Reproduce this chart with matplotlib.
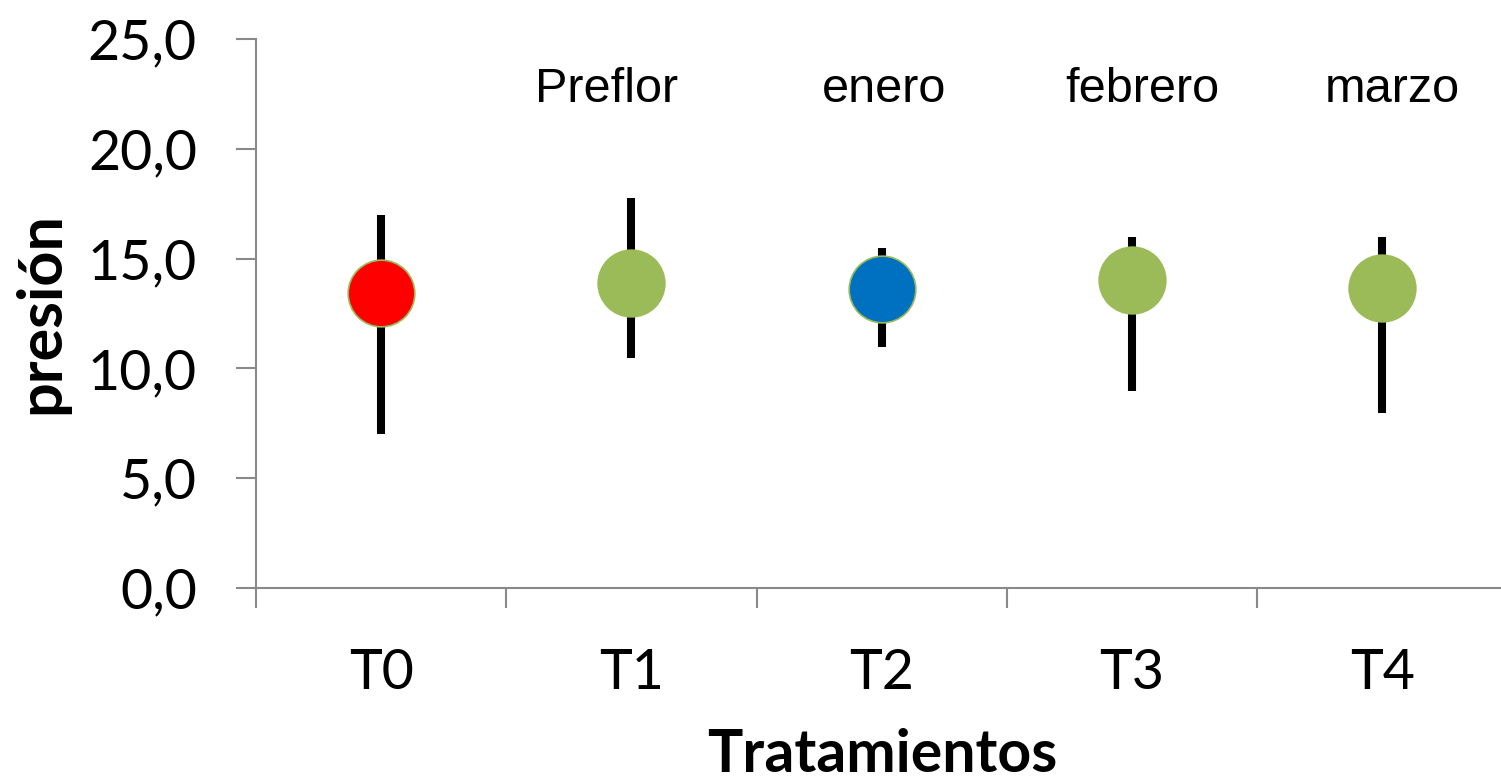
import matplotlib
matplotlib.use("Agg")
import matplotlib.pyplot as plt
from matplotlib.ticker import FuncFormatter

categories = ["T0", "T1", "T2", "T3", "T4"]
means = [13.42, 13.87, 13.60, 14.03, 13.68]
upper = [17.0, 17.74, 15.47, 15.97, 16.0]
lower = [7.0, 10.49, 10.99, 8.98, 7.98]
colors = ["#FF0000", "#9BBB59", "#0070C0", "#9BBB59", "#9BBB59"]
notes = ["", "Preflor", "enero", "febrero", "marzo"]
note_offsets = [0.0, -0.1, 0.01, 0.04, 0.04]

W, H = 1501, 778
fig = plt.figure(figsize=(W / 100, H / 100), dpi=100)
left, right, top, bottom = 256, 1507.5, 39, 588
ax = fig.add_axes([left / W, (H - bottom) / H, (right - left) / W, (bottom - top) / H])

x = list(range(len(categories)))
ax.vlines(x, lower, upper, colors="black", linewidth=5.8, zorder=2)
for xi, m, c in zip(x, means, colors):
    ax.plot([xi], [m], marker="o", markersize=48, markerfacecolor=c,
            markeredgecolor="#9BBB59", markeredgewidth=1.2, linestyle="none", zorder=3)

for xi, t, off in zip(x, notes, note_offsets):
    if t:
        ax.text(xi + off, 22.13, t, ha="center", va="baseline",
                fontsize=35, family="Liberation Sans", color="black")

ax.set_xlim(-0.5, 4.5)
ax.set_ylim(0, 25)
ax.set_yticks([0, 5, 10, 15, 20, 25])
ax.yaxis.set_major_formatter(FuncFormatter(lambda v, p: f"{v:.1f}".replace(".", ",")))
ax.set_xticks(x)
ax.set_xticklabels(categories)
ax.set_xticks([i - 0.5 for i in range(len(categories) + 1)], minor=True)
ax.tick_params(axis="x", which="major", length=0, pad=43, labelsize=40)
ax.tick_params(axis="x", which="minor", length=14.5, width=1.5, color="#898989", direction="out")
ax.tick_params(axis="y", which="major", length=14.5, width=1.5, color="#898989",
               direction="out", pad=28, labelsize=40)
for lab in ax.get_xticklabels() + ax.get_yticklabels():
    lab.set_family("Lato")

for s in ["top", "right"]:
    ax.spines[s].set_visible(False)
for s in ["left", "bottom"]:
    ax.spines[s].set_color("#898989")
    ax.spines[s].set_linewidth(1.5)

ax.set_ylabel("presión", fontsize=44, fontweight="bold", family="Lato", labelpad=13)
ax.set_xlabel("Tratamientos", fontsize=42.5, fontweight="bold", family="Lato", labelpad=21)

fig.savefig("out.png", dpi=100)
